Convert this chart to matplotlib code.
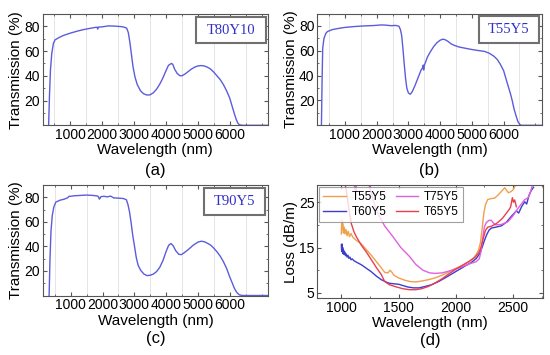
import numpy as np
import matplotlib
matplotlib.use('Agg')
import matplotlib.pyplot as plt
from matplotlib.patches import Rectangle
from matplotlib.ticker import MultipleLocator

plt.rcParams['font.family'] = ['Liberation Sans', 'DejaVu Sans']

# (a) T80Y10 transmission
a_wl = [322, 350, 380, 420, 470, 520, 650, 800, 1000, 1200, 1400, 1600, 1800, 1840, 1860, 1880,
        2000, 2200, 2400, 2600, 2700, 2770, 2820, 2870, 2920, 2970, 3030, 3100, 3200, 3300, 3400,
        3500, 3600, 3700, 3800, 3900, 4000, 4080, 4150, 4180, 4220, 4270, 4350, 4430, 4500, 4600,
        4700, 4800, 4900, 5000, 5100, 5200, 5300, 5400, 5500, 5600, 5700, 5800, 5900, 6000, 6080,
        6150, 6200, 6250, 6300, 6400, 7200]
a_tr = [0, 25, 45, 58, 66, 69, 71, 72.8, 74.5, 76, 77.3, 78.3, 79.2, 79.3, 77.8, 79.4,
        79.6, 80.4, 80.2, 79.8, 79.3, 78.5, 75, 67, 57, 47, 39, 33, 28, 25.5, 24.5,
        24.6, 26.2, 29, 33, 38, 44, 48.5, 49.7, 50, 49, 45.5, 42, 40.2, 40, 41.5,
        43.5, 45.5, 47, 48, 48.3, 48, 47, 45.5, 43, 40, 37, 33, 28, 22, 15,
        9, 5, 2, 0.4, 0, 0]

# (b) T55Y5 transmission
b_wl = [260, 280, 300, 340, 400, 450, 600, 800, 1000, 1300, 1600, 1900, 2150, 2300, 2450, 2600,
        2700, 2750, 2790, 2830, 2870, 2910, 2950, 3000, 3060, 3120, 3200, 3300, 3400, 3440, 3470,
        3480, 3500, 3600, 3700, 3800, 3900, 4000, 4080, 4150, 4250, 4350, 4450, 4600, 4800, 5000,
        5200, 5400, 5550, 5700, 5800, 5900, 6000, 6080, 6150, 6220, 6270, 6330, 6400, 6450, 6500,
        6550, 7200]
b_tr = [0, 35, 62, 70, 74, 75.5, 77, 78, 78.8, 79.5, 80, 80.3, 80.8, 80.6, 80.2, 80.4,
        79.8, 77, 72, 61, 49, 38, 30, 26, 25, 27, 31.5, 38, 44.5, 46, 48.5,
        44.5, 48, 55, 59.5, 63.5, 66.5, 68.5, 69.3, 69, 67.5, 65.5, 64.3, 63, 62, 61,
        60.2, 59.5, 58, 55.5, 53, 49, 44, 37, 31, 25, 20, 13, 7, 3, 1,
        0, 0]

# (c) T90Y5 transmission
c_wl = [322, 350, 380, 420, 470, 530, 650, 800, 900, 950, 1000, 1100, 1300, 1500, 1700, 1850,
        1880, 1900, 1920, 1950, 2050, 2150, 2250, 2350, 2500, 2650, 2750, 2800, 2850, 2900, 2950,
        3000, 3060, 3120, 3200, 3300, 3400, 3500, 3600, 3700, 3800, 3900, 4000, 4080, 4150, 4220,
        4300, 4400, 4480, 4550, 4700, 4850, 5000, 5100, 5200, 5300, 5400, 5500, 5600, 5700, 5800,
        5900, 6000, 6080, 6150, 6220, 6300, 6400, 7200]
c_tr = [0, 30, 52, 65, 72, 76, 77.5, 78.5, 79.5, 80.8, 80.8, 81.2, 81.5, 81.8, 81.5, 81,
        80, 78.5, 79, 80.5, 80.8, 80.3, 81, 79.5, 79.3, 79, 78, 74, 68, 59, 49,
        41, 31, 24.5, 20.5, 17.5, 16.2, 16.5, 17.5, 19.5, 23, 28.5, 36, 41, 42.3, 40.5,
        36.5, 33.5, 33.3, 34.5, 37.5, 41, 43.5, 44.2, 43.8, 42.5, 41, 38.5, 35.5, 32, 27.5,
        22, 15, 10, 5.5, 2.5, 0.5, 0, 0]

# (d) loss curves
t55_wl = [1000, 1004, 1008, 1012, 1018, 1025, 1032, 1040, 1050, 1060, 1072, 1085, 1100, 1130, 1175,
          1230, 1262, 1306, 1350, 1380, 1408, 1425, 1440, 1460, 1500, 1554, 1600, 1650, 1700, 1760,
          1820, 1880, 1940, 2000, 2060, 2110, 2150, 2180, 2200, 2215, 2230, 2245, 2260, 2280, 2310,
          2340, 2370, 2400, 2428, 2445, 2460, 2480, 2500, 2515, 2530, 2560]
t55_loss = [18, 21, 19, 20.3, 18.2, 19.5, 18, 19, 17.6, 18.6, 17.4, 18.1, 17.3, 16.6, 15.8,
            14.2, 13.3, 11.9, 10.5, 9.5, 9.4, 10, 9.6, 8.9, 8.3, 7.8, 7.5, 7.4, 7.6, 7.9,
            8.3, 8.9, 9.6, 10.4, 11.1, 11.8, 12.5, 13.5, 14.5, 16, 19, 22.5, 24.5, 25.6, 25.8,
            25.9, 26.6, 27.4, 28.2, 27.6, 27.1, 27.3, 27.7, 28.4, 29.2, 30]

t60_wl = [1000, 1003, 1006, 1009, 1012, 1016, 1020, 1025, 1030, 1036, 1042, 1050, 1058, 1066, 1075,
          1085, 1095, 1110, 1130, 1175, 1220, 1260, 1306, 1350, 1400, 1423, 1460, 1500, 1540, 1580,
          1630, 1680, 1730, 1790, 1850, 1900, 1960, 2020, 2080, 2136, 2180, 2210, 2230, 2250, 2270,
          2290, 2311, 2350, 2400, 2443, 2490, 2530, 2550, 2575, 2603, 2620, 2640, 2660, 2680]
t60_loss = [15.6, 14.2, 15.8, 14, 15, 13.6, 14.4, 13.5, 14, 13.2, 13.6, 12.9, 13.3, 12.6, 12.9,
            12.3, 12.5, 12.1, 11.8, 11.2, 10.4, 9.7, 8.7, 7.9, 7.3, 7.1, 7.0, 6.9, 6.6, 6.3,
            6.1, 6.1, 6.4, 6.8, 7.5, 8.2, 9.1, 10, 10.9, 11.7, 12.6, 13.7, 15, 16.5, 17.8,
            18.8, 19.3, 19.5, 19.8, 20.6, 22, 23.1, 22.6, 24, 25.1, 24.6, 26.5, 27.6, 28.3]

t75_wl = [1110, 1118, 1124, 1128, 1135, 1200, 1240, 1262, 1290, 1330, 1380, 1451, 1520, 1597, 1650,
          1713, 1772, 1820, 1880, 1940, 2000, 2060, 2120, 2180, 2205, 2220, 2235, 2250, 2267, 2290,
          2311, 2330, 2350, 2400, 2457, 2500, 2540, 2573, 2600, 2632, 2650, 2665, 2680]
t75_loss = [30, 27.8, 28.8, 27.5, 30, 32, 29, 27, 24.5, 22, 19.7, 17.4, 15, 13, 11.3,
            10, 9.4, 9.3, 9.4, 9.8, 10.3, 10.8, 11.4, 11.9, 12.5, 14, 17, 19.5, 20.5, 21,
            21, 20.4, 20, 20.1, 20.7, 22, 23.5, 24.6, 25.5, 26, 27, 28.3, 29.5]

t65_wl = [1030, 1050, 1067, 1087, 1110, 1131, 1175, 1219, 1260, 1306, 1350, 1379, 1420, 1481, 1540,
          1597, 1650, 1700, 1760, 1820, 1880, 1940, 2000, 2060, 2120, 2170, 2200, 2220, 2240, 2260,
          2280, 2311, 2350, 2380, 2410, 2440, 2470, 2480, 2495, 2505, 2515, 2530]
t65_loss = [29.5, 26.5, 23.3, 20.3, 18.5, 17.4, 15.5, 14, 12.4, 10.6, 9, 7.5, 6.8, 6.3, 5.9,
            5.7, 5.7, 5.9, 6.4, 7.2, 8.1, 9.2, 10.2, 11.1, 12, 12.9, 13.8, 15, 17, 18.8,
            19.5, 19.7, 20.2, 20.8, 21.5, 22.5, 23.5, 24, 26, 25, 25.5, 24]

fig = plt.figure(figsize=(5.5, 3.55), dpi=100)
W, H = 550, 355


def add_ax(l, t, r, b):
    return fig.add_axes([l / W, 1 - b / H, (r - l) / W, (b - t) / H])


def style(ax):
    for s in ax.spines.values():
        s.set_color('#555555')
        s.set_linewidth(0.8)
    ax.tick_params(which='both', direction='in', top=True, right=True,
                   labelsize=10, color='#555555', pad=2)
    ax.tick_params(which='major', length=3)
    ax.tick_params(which='minor', length=1.5)


line_col = '#5c5cdc'
trans = [(a_wl, a_tr, 'T80Y10', (42.5, 14, 268, 125.3), (0.679, 0.739, 0.31, 0.234), '(a)', 170),
         (b_wl, b_tr, 'T55Y5', (317.3, 13.5, 541.7, 125.3), (0.72, 0.732, 0.267, 0.244), '(b)', 170),
         (c_wl, c_tr, 'T90Y5', (43, 185, 268, 295.5), (0.716, 0.727, 0.271, 0.248), '(c)', 338)]

for wl, tr, name, box, rect, tag, ty in trans:
    ax = add_ax(*box)
    for g in np.arange(500, 7200, 1000):
        ax.axvline(g, color='#e0e0e0', lw=0.6, zorder=0)
    ax.plot(wl, tr, color=line_col, lw=1.0)
    ax.set_xlim(130, 7200)
    ax.set_ylim(0, 90)
    ax.set_xticks([1000, 2000, 3000, 4000, 5000, 6000])
    ax.set_yticks([20, 40, 60, 80])
    ax.xaxis.set_minor_locator(MultipleLocator(500))
    ax.yaxis.set_minor_locator(MultipleLocator(10))
    style(ax)
    ax.set_xlabel('Wavelength (nm)', fontsize=11, labelpad=1)
    ax.set_ylabel('Transmission (%)', fontsize=11, labelpad=1)
    ax.add_patch(Rectangle((rect[0], rect[1]), rect[2], rect[3], transform=ax.transAxes,
                           facecolor='white', edgecolor='#707070', lw=1.5, zorder=5))
    ax.text(rect[0] + rect[2] / 2, rect[1] + rect[3] / 2, name, transform=ax.transAxes,
            ha='center', va='center', fontsize=10.5, color='#3030c8',
            family='Liberation Serif', zorder=6)
    fig.text((box[0] + box[2]) / 2 / W, 1 - ty / H, tag, ha='center', va='center', fontsize=12)

# (d)
ax = add_ax(317.3, 185, 542.7, 298.3)
ax.plot(t55_wl, t55_loss, color='#f0a04c', lw=1.0, label='T55Y5')
ax.plot(t60_wl, t60_loss, color='#3c3cd0', lw=1.0, label='T60Y5')
ax.plot(t75_wl, t75_loss, color='#e060e0', lw=1.0, label='T75Y5')
ax.plot(t65_wl, t65_loss, color='#e64050', lw=1.0, label='T65Y5')
ax.set_xlim(790, 2760)
ax.set_ylim(3.8, 28.8)
ax.set_xticks([1000, 1500, 2000, 2500])
ax.set_yticks([5, 15, 25])
ax.xaxis.set_minor_locator(MultipleLocator(250))
ax.yaxis.set_minor_locator(MultipleLocator(5))
style(ax)
ax.set_xlabel('Wavelength (nm)', fontsize=11, labelpad=1)
ax.set_ylabel('Loss (dB/m)', fontsize=11, labelpad=1)
leg = ax.legend(loc='upper left', ncol=2, fontsize=8.5, frameon=True, fancybox=False,
                edgecolor='#888888', borderpad=0.35, labelspacing=0.25, columnspacing=0.8,
                handlelength=1.9, handletextpad=0.5, borderaxespad=0.15)
leg.get_frame().set_linewidth(0.8)
fig.text((317.3 + 542.7) / 2 / W, 1 - 341 / H, '(d)', ha='center', va='center', fontsize=12)

fig.savefig('out.png', dpi=100)
